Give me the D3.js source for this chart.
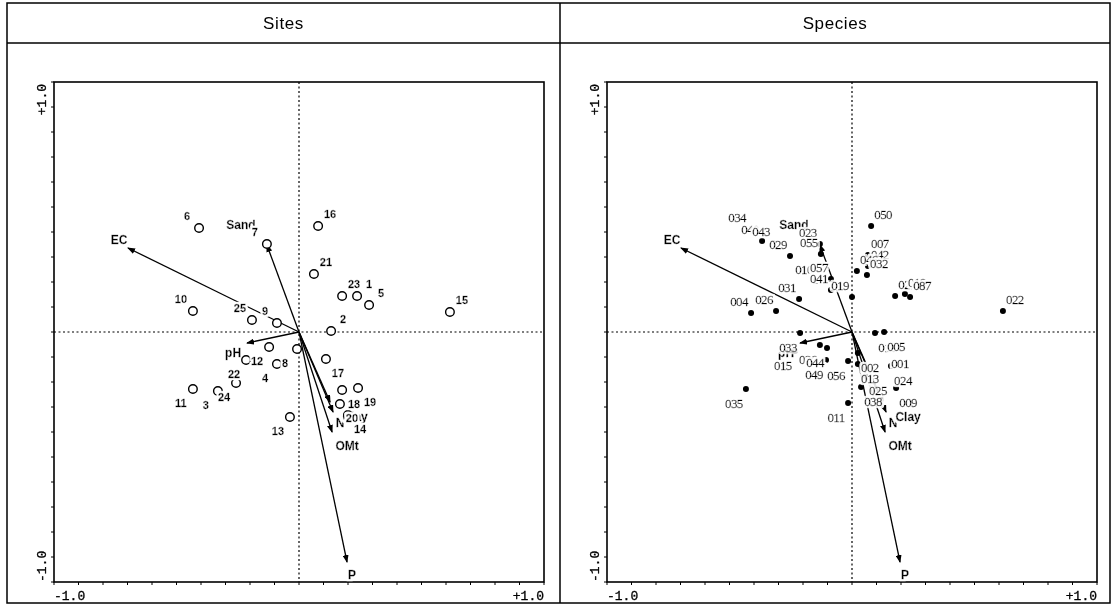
<!DOCTYPE html>
<html>
<head>
<meta charset="utf-8">
<script src="https://cdn.jsdelivr.net/npm/d3@7"></script>
<style>
body { margin: 0; background: #fff; }
svg { will-change: transform; }
</style>
</head>
<body>
<div id="chart"></div>
<script>
const w = 1113, h = 605

// site scores (ordination axes 1 and 2)
const siteIds = ["1", "2", "3", "4", "5", "6", "7", "8", "9", "10", "11", "12", "13",
    "14", "15", "16", "17", "18", "19", "20", "21", "22", "23", "24", "25"]
const siteX = [0.237, 0.131, -0.331, -0.090, 0.286, -0.408, -0.131, -0.008, -0.090, -0.433, -0.433, -0.122, -0.037,
    0.200, 0.616, 0.078, 0.110, 0.176, 0.241, 0.167, 0.061, -0.216, 0.176, -0.257, -0.192]
const siteY = [0.144, 0.004, -0.236, -0.128, 0.108, 0.416, 0.352, -0.068, 0.036, 0.084, -0.228, -0.060, -0.340,
    -0.332, 0.080, 0.424, -0.108, -0.232, -0.224, -0.288, 0.232, -0.112, 0.144, -0.204, 0.048]

// species scores
const speciesIds = ["004", "026", "031", "029", "040", "043", "034", "023", "055", "010", "057", "041", "019",
    "050", "007", "042", "046", "032", "021", "018", "087", "022", "016", "005", "001", "024", "009", "002",
    "025", "038", "013", "033", "036", "015", "049", "056", "044", "035", "011"]
const speciesX = [-0.412, -0.310, -0.216, -0.253, -0.367, -0.322, -0.420, -0.131, -0.127, -0.147, -0.086, -0.086, 0.000,
    0.078, 0.065, 0.065, 0.020, 0.061, 0.176, 0.216, 0.237, 0.616, 0.094, 0.131, 0.147, 0.159, 0.180, 0.024,
    0.057, 0.037, 0.024, -0.212, -0.131, -0.233, -0.106, -0.016, -0.102, -0.433, -0.016]
const speciesY = [0.076, 0.084, 0.132, 0.304, 0.364, 0.356, 0.412, 0.352, 0.312, 0.204, 0.212, 0.168, 0.140,
    0.424, 0.308, 0.264, 0.244, 0.228, 0.144, 0.152, 0.140, 0.084, -0.004, 0.000, -0.068, -0.136, -0.224, -0.084,
    -0.176, -0.220, -0.128, -0.004, -0.052, -0.076, -0.112, -0.116, -0.064, -0.228, -0.284]

// environmental variables (arrow tips)
const envNames = ["EC", "Sand", "pH", "P", "OMt", "N", "Clay"]
const envX = [-0.698, -0.131, -0.212, 0.196, 0.135, 0.139, 0.127]
const envY = [0.336, 0.348, -0.044, -0.920, -0.400, -0.320, -0.280]

const axisTicks = d3.range(-10, 11).map(d => d / 10)
const axisLabels = ["-1.0", "+1.0"]

// label offsets of the arrow names (px)
const envNudge = {
    EC: [-9, -8], Sand: [-26, -20], pH: [-14, 10], P: [5, 13],
    OMt: [15, 14], N: [7, 11], Clay: [25, 15]
}

const panels = [
    {title: "Sites", x0: 7, x1: 560, plot: [54, 544]},
    {title: "Species", x0: 560, x1: 1110, plot: [607, 1097]}
]

const sans = "Liberation Sans, Arial, sans-serif"
const serif = "Liberation Serif, Times New Roman, serif"
const mono = "Liberation Mono, DejaVu Sans Mono, monospace"

const yscale = d3.scaleLinear().domain([-1, 1]).range([582, 82])

const svg = d3.select("#chart").append("svg")
    .attr("width", w)
    .attr("height", h)

svg.append("rect").attr("width", w).attr("height", h).attr("fill", "white")

const defs = svg.append("defs")
defs.append("marker")
    .attr("id", "head")
    .attr("markerUnits", "userSpaceOnUse")
    .attr("markerWidth", 8)
    .attr("markerHeight", 6)
    .attr("refX", 7)
    .attr("refY", 3)
    .attr("orient", "auto")
    .append("path")
    .attr("d", "M0,0 L8,3 L0,6 Z")
    .attr("fill", "black")

// white knock-out behind labels, as in the original plot
const halo = defs.append("filter").attr("id", "halo")
    .attr("x", "-20%").attr("y", "-30%").attr("width", "140%").attr("height", "160%")
halo.append("feMorphology").attr("in", "SourceAlpha").attr("operator", "dilate")
    .attr("radius", 1.6).attr("result", "grow")
halo.append("feFlood").attr("flood-color", "white").attr("result", "white")
halo.append("feComposite").attr("in", "white").attr("in2", "grow").attr("operator", "in").attr("result", "bg")
const merge = halo.append("feMerge")
merge.append("feMergeNode").attr("in", "bg")
merge.append("feMergeNode").attr("in", "SourceGraphic")

// outer frame
svg.append("rect")
    .attr("x", 7).attr("y", 3)
    .attr("width", 1103).attr("height", 600)
    .attr("fill", "none").attr("stroke", "black").attr("stroke-width", 1.5)
svg.append("line")
    .attr("x1", 7).attr("x2", 1110).attr("y1", 43).attr("y2", 43)
    .attr("stroke", "black").attr("stroke-width", 1.5)
svg.append("line")
    .attr("x1", 560).attr("x2", 560).attr("y1", 3).attr("y2", 603)
    .attr("stroke", "black").attr("stroke-width", 1.5)

function labels(g, data, cls, xf, yf, font, weight, size, spacing) {
    g.selectAll("text." + cls).data(data).enter().append("text")
        .attr("class", cls)
        .attr("x", xf).attr("y", yf)
        .attr("text-anchor", "middle")
        .attr("dominant-baseline", "central")
        .attr("font-family", font)
        .attr("font-weight", weight)
        .attr("font-size", size)
        .attr("letter-spacing", spacing)
        .attr("fill", "black")
        .attr("stroke", "black")
        .attr("stroke-width", 0.3)
        .attr("filter", "url(#halo)")
        .text(d => d.id)
}

function drawPanel(p, kind) {
    const xscale = d3.scaleLinear().domain([-1, 1]).range(p.plot)
    const g = svg.append("g")

    g.append("text")
        .attr("x", (p.x0 + p.x1) / 2)
        .attr("y", 29)
        .attr("text-anchor", "middle")
        .attr("font-family", sans)
        .attr("font-size", 17)
        .attr("letter-spacing", 0.6)
        .text(p.title)

    // plot box
    g.append("rect")
        .attr("x", xscale(-1)).attr("y", yscale(1))
        .attr("width", xscale(1) - xscale(-1))
        .attr("height", yscale(-1) - yscale(1))
        .attr("fill", "none").attr("stroke", "black").attr("stroke-width", 1.6)

    // ticks
    g.selectAll("line.ytick").data(axisTicks).enter().append("line")
        .attr("class", "ytick")
        .attr("x1", xscale(-1) - 3).attr("x2", xscale(-1))
        .attr("y1", d => yscale(d)).attr("y2", d => yscale(d))
        .attr("stroke", "black").attr("stroke-width", 1)
    g.selectAll("line.xtick").data(axisTicks).enter().append("line")
        .attr("class", "xtick")
        .attr("x1", d => xscale(d)).attr("x2", d => xscale(d))
        .attr("y1", yscale(-1)).attr("y2", yscale(-1) + 3)
        .attr("stroke", "black").attr("stroke-width", 1)

    // axis labels
    const axisText = sel => sel.attr("font-family", mono).attr("font-size", 13)
        .attr("stroke", "black").attr("stroke-width", 0.3)
    g.append("text")
        .attr("x", xscale(-1)).attr("y", yscale(-1) + 18)
        .call(axisText)
        .text(axisLabels[0])
    g.append("text")
        .attr("x", xscale(1)).attr("y", yscale(-1) + 18)
        .attr("text-anchor", "end")
        .call(axisText)
        .text(axisLabels[1])
    g.append("text")
        .attr("transform", "translate(" + (xscale(-1) - 8) + "," + (yscale(1) + 2) + ") rotate(-90)")
        .attr("text-anchor", "end")
        .call(axisText)
        .text(axisLabels[1])
    g.append("text")
        .attr("transform", "translate(" + (xscale(-1) - 8) + "," + yscale(-1) + ") rotate(-90)")
        .call(axisText)
        .text(axisLabels[0])

    // zero lines
    g.append("line")
        .attr("x1", xscale(0)).attr("x2", xscale(0))
        .attr("y1", yscale(1)).attr("y2", yscale(-1))
        .attr("stroke", "black").attr("stroke-width", 1.2).attr("stroke-dasharray", "2,2.5")
    g.append("line")
        .attr("x1", xscale(-1)).attr("x2", xscale(1))
        .attr("y1", yscale(0)).attr("y2", yscale(0))
        .attr("stroke", "black").attr("stroke-width", 1.2).attr("stroke-dasharray", "2,2.5")

    // environmental arrows
    const env = envNames.map((n, i) => ({id: n, x: envX[i], y: envY[i]}))
    g.selectAll("line.arrow").data(env).enter().append("line")
        .attr("class", "arrow")
        .attr("x1", xscale(0)).attr("y1", yscale(0))
        .attr("x2", d => xscale(d.x)).attr("y2", d => yscale(d.y))
        .attr("stroke", "black").attr("stroke-width", 1.3)
        .attr("marker-end", "url(#head)")
    labels(g, env, "env",
        d => xscale(d.x) + envNudge[d.id][0],
        d => yscale(d.y) + envNudge[d.id][1],
        sans, "bold", 12, 0)

    let pts
    if (kind === "sites") {
        pts = siteIds.map((id, i) => ({id: id, x: siteX[i], y: siteY[i]}))
        g.selectAll("circle.site").data(pts).enter().append("circle")
            .attr("class", "site")
            .attr("cx", d => xscale(d.x)).attr("cy", d => yscale(d.y))
            .attr("r", 4.3)
            .attr("fill", "white").attr("stroke", "black").attr("stroke-width", 1.4)
    } else {
        pts = speciesIds.map((id, i) => ({id: id, x: speciesX[i], y: speciesY[i]}))
        g.selectAll("circle.sp").data(pts).enter().append("circle")
            .attr("class", "sp")
            .attr("cx", d => xscale(d.x)).attr("cy", d => yscale(d.y))
            .attr("r", 3)
            .attr("fill", "black")
    }

    // point labels sit diagonally outward from the point
    labels(g, pts, "pt",
        d => xscale(d.x) + (d.x > 0 ? 12 : -12),
        d => yscale(d.y) + (d.y > 0 ? -12 : 14),
        kind === "sites" ? sans : serif,
        kind === "sites" ? "bold" : "normal",
        kind === "sites" ? 11 : 13,
        kind === "sites" ? 0 : -0.6)
}

drawPanel(panels[0], "sites")
drawPanel(panels[1], "species")
</script>
</body>
</html>
